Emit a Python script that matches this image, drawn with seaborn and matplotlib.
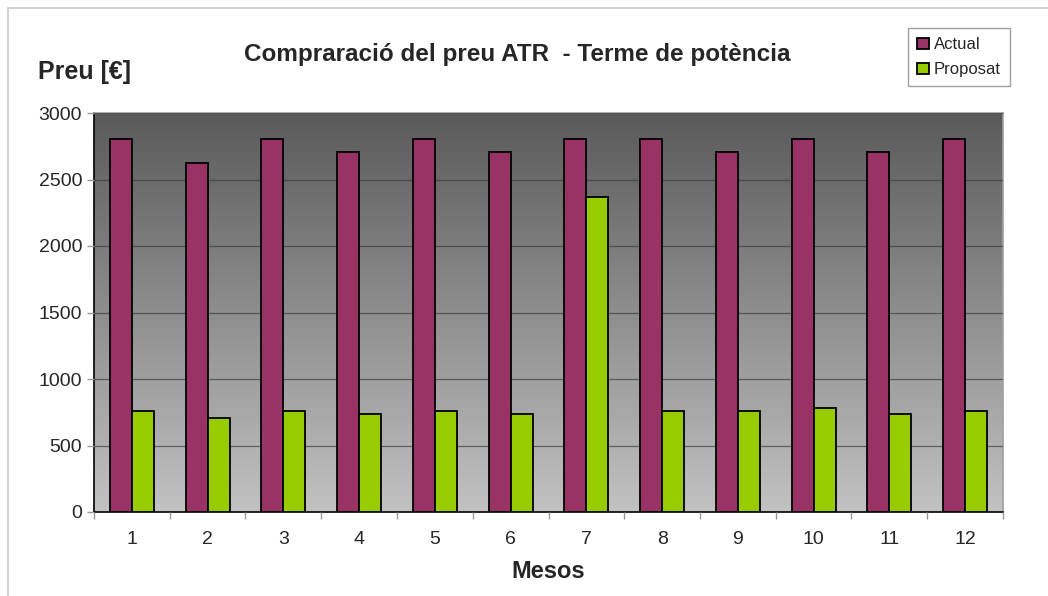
import numpy as np
import pandas as pd
import matplotlib
matplotlib.use("Agg")
import matplotlib.pyplot as plt
import seaborn as sns
from matplotlib.colors import LinearSegmentedColormap
from matplotlib.ticker import MultipleLocator, FixedLocator

# values
months = ["1", "2", "3", "4", "5", "6", "7", "8", "9", "10", "11", "12"]
actual = [2805, 2625, 2805, 2710, 2805, 2710, 2805, 2805, 2710, 2805, 2710, 2805]
proposat = [760, 710, 760, 735, 760, 735, 2365, 760, 760, 782, 735, 760]
series_names = ["Actual", "Proposat"]
colors = ["#993366", "#99cc00"]

df = pd.DataFrame({
    "Mes": months * 2,
    "Preu": actual + proposat,
    "Serie": [series_names[0]] * len(months) + [series_names[1]] * len(months),
})

sns.set_style("white")
plt.rcParams["font.family"] = ["Liberation Sans", "DejaVu Sans"]

fig = plt.figure(figsize=(10.48, 5.96), dpi=100)
ax = fig.add_axes([94 / 1048, 1 - 512 / 596, (1003 - 94) / 1048, (512 - 113) / 596])

# gradient background, dark at top, light at bottom
grad_cmap = LinearSegmentedColormap.from_list("bg", ["#c2c2c2", "#5a5a5a"])
ax.imshow(np.linspace(0, 1, 256).reshape(-1, 1), cmap=grad_cmap, aspect="auto",
          extent=[-0.5, len(months) - 0.5, 0, 3000], origin="lower", zorder=0)

sns.barplot(data=df, x="Mes", y="Preu", hue="Serie", palette=colors,
            width=0.58, edgecolor="black", linewidth=1.3, saturation=1,
            ax=ax, zorder=3)

ax.set_xlim(-0.5, len(months) - 0.5)
ax.set_ylim(0, 3000)
ax.yaxis.set_major_locator(MultipleLocator(500))
ax.grid(axis="y", color="#3c3c3c", linewidth=0.9, alpha=0.7, zorder=1)
ax.set_axisbelow(False)
for gl in ax.get_ygridlines():
    gl.set_zorder(1)

# excel-like tick marks between categories
ax.xaxis.set_minor_locator(FixedLocator(np.arange(-0.5, len(months), 1)))
ax.tick_params(axis="x", which="major", length=0, labelsize=14, pad=14, bottom=True)
ax.tick_params(axis="x", which="minor", length=5, color="#999999", direction="out", width=1, bottom=True)
ax.tick_params(axis="y", which="major", length=5, labelsize=14, color="#999999", direction="out", left=True, width=1)

for side in ["left", "bottom"]:
    ax.spines[side].set_color("black")
    ax.spines[side].set_linewidth(1.2)
for side in ["top", "right"]:
    ax.spines[side].set_color("#a0a0a0")
    ax.spines[side].set_linewidth(1.2)

ax.set_xlabel("Mesos", fontsize=17, fontweight="bold", labelpad=8)
ax.set_ylabel("")
fig.text(38 / 1048, 1 - 72 / 596, "Preu [€]", fontsize=18, fontweight="bold", va="center", ha="left")
fig.text(517 / 1048, 1 - 54 / 596, "Compraració del preu ATR  - Terme de potència",
         fontsize=17.5, fontweight="bold", va="center", ha="center")

leg = ax.legend(loc="upper left", bbox_to_anchor=(908 / 1048, 1 - 28 / 596),
                bbox_transform=fig.transFigure, frameon=True, fancybox=False,
                fontsize=12, handlelength=0.7, handleheight=0.7, handletextpad=0.3,
                borderpad=0.55, labelspacing=0.6, borderaxespad=0)
leg.get_frame().set_edgecolor("#888888")
leg.get_frame().set_linewidth(1)
leg._legend_box.align = "left"

# light outer border like the reference
fig.add_artist(plt.Line2D([8 / 1048, 8 / 1048], [0, 1 - 8 / 596], color="#c8c8c8", linewidth=1.2))
fig.add_artist(plt.Line2D([8 / 1048, 1], [1 - 8 / 596, 1 - 8 / 596], color="#c8c8c8", linewidth=1.2))

fig.savefig("out.png", dpi=100)
